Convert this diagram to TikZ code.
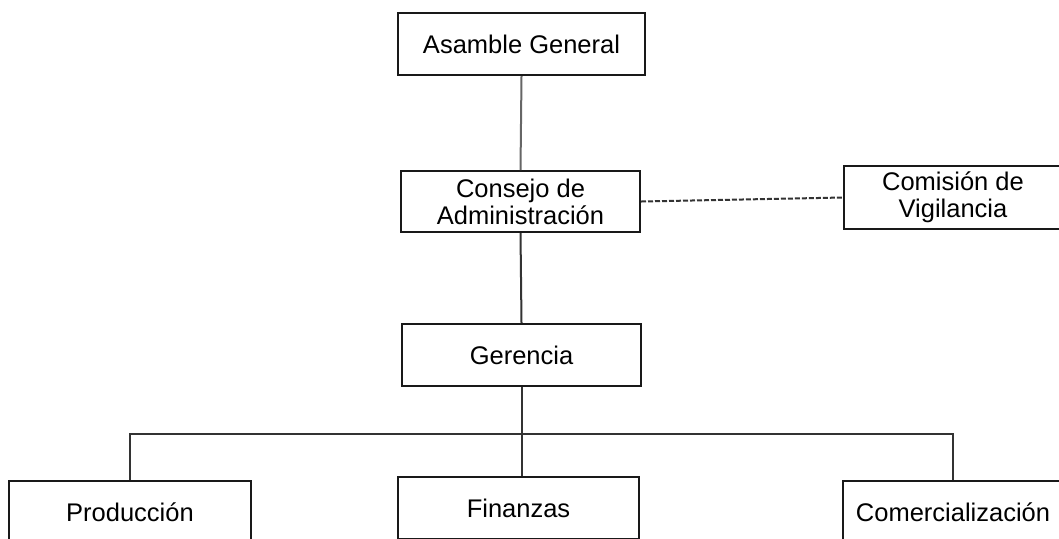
\documentclass[tikz,border=0pt]{standalone}
\usepackage{fontspec}
\setmainfont{Liberation Sans}
\tikzset{
  caja/.style={draw=black!90,line width=1pt,minimum height=31pt,align=center,
    inner sep=0pt,font=\fontsize{12.75}{13.5}\selectfont},
  linea/.style={draw=black!80,line width=1pt}
}
\begin{document}
\begin{tikzpicture}[x=0.5pt,y=-0.5pt]
\useasboundingbox (0,0) rectangle (1059,538);
\clip (0,0) rectangle (1059,538);
\node[caja,minimum width=123.5pt] (asamble) at (521.5,44) {Asamble General};
\node[caja,minimum width=119.5pt,minimum height=30.5pt] (consejo) at (520.5,201.5) {Consejo de\\Administración};
\node[caja,minimum width=109pt,minimum height=31.5pt] (comision) at (953,197.5) {Comisión de\\Vigilancia};
\node[caja,minimum width=119.5pt] (gerencia) at (521.5,355) {Gerencia};
\node[caja,minimum width=121pt] (produccion) at (130,512) {Producción};
\node[caja,minimum width=120.5pt] (finanzas) at (518.5,508) {Finanzas};
\node[caja,minimum width=110pt] (comercial) at (953,512) {Comercialización};
\coordinate (barra) at (521.5,434);
% lineas
\draw[linea,draw=black!60] (asamble.south) -- (consejo.north);
\draw[linea] (consejo.south) -- (gerencia.north);
\draw[linea,dash pattern=on 2.5pt off 1pt] (consejo.east) -- (comision.west);
\draw[linea] (gerencia.south) -- (gerencia.south |- finanzas.north);
\draw[linea] (produccion.north) |- (barra) -| (comercial.north);
\end{tikzpicture}
\end{document}
